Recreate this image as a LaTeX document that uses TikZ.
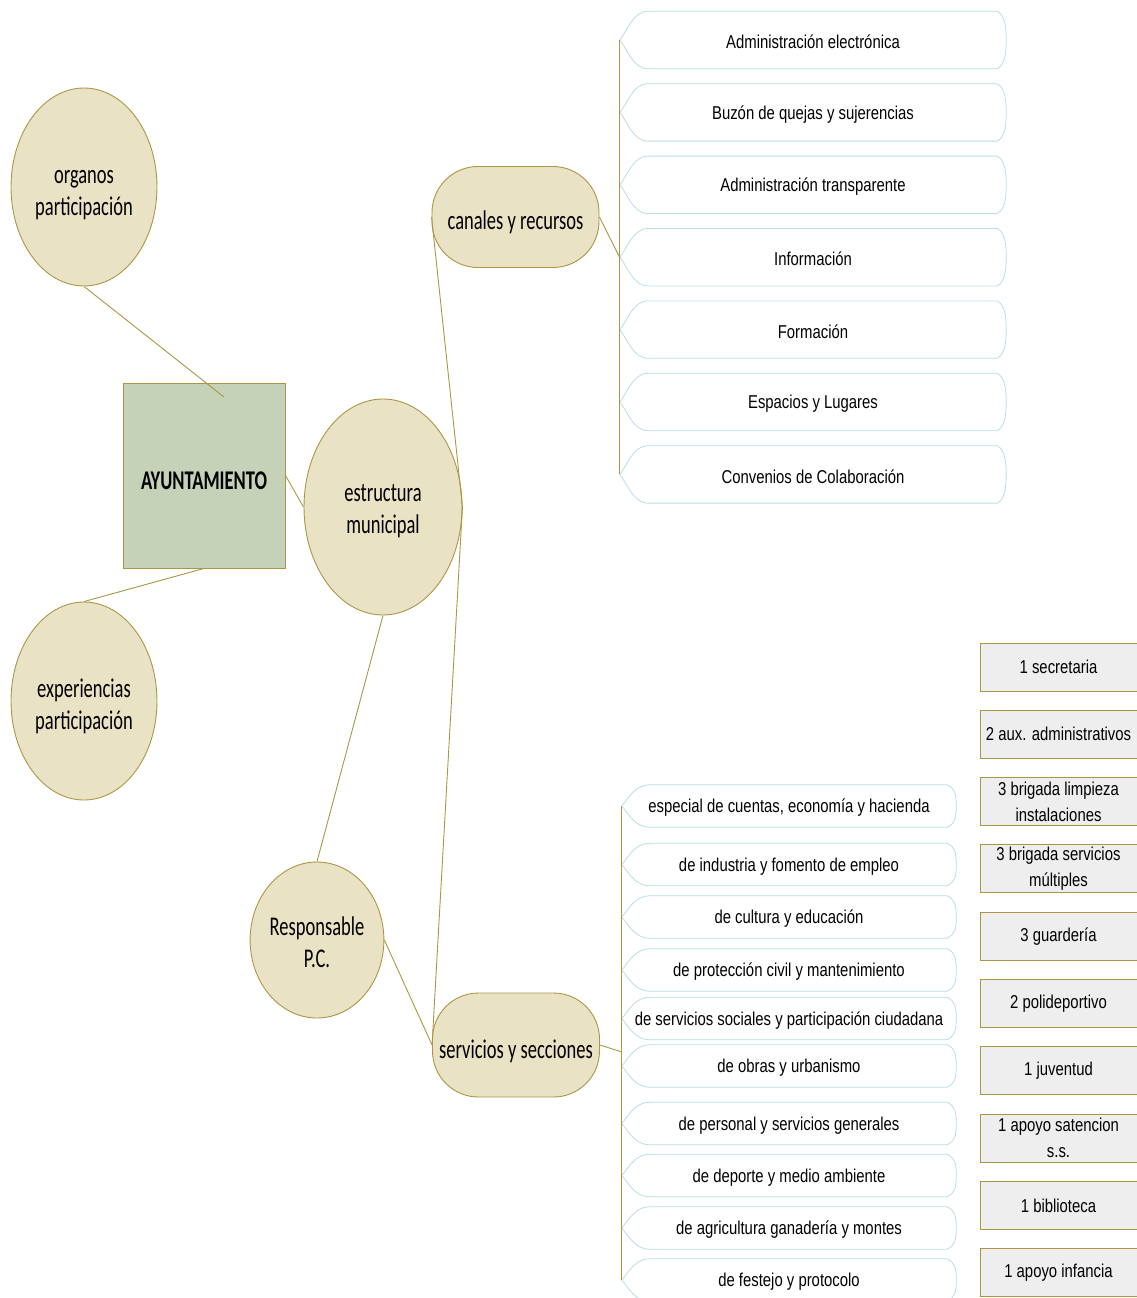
\documentclass[tikz,border=0pt]{standalone}
\usepackage{fontspec}
\usepackage{xcolor}
\usepackage{tikz}
\usetikzlibrary{shapes,positioning,calc}

\newfontfamily\calfont[FakeStretch=0.685]{Carlito}
\newfontfamily\narrowfont[FakeStretch=0.80]{Liberation Sans}

\definecolor{ayolive}{RGB}{172,150,68}
\definecolor{aybeige}{RGB}{233,226,197}
\definecolor{aysage}{RGB}{197,210,184}
\definecolor{aygrey}{RGB}{238,238,238}
\definecolor{aytab}{RGB}{183,221,232}

\tikzset{
  link/.style={draw=ayolive, line width=0.9pt},
  bubble/.style={ellipse, draw=ayolive, fill=aybeige, line width=0.9pt, inner sep=0pt, font=\calfont\fontsize{27}{31.5}\selectfont},
  pill/.style={rectangle, rounded corners=46pt, draw=ayolive, fill=aybeige, line width=0.9pt, minimum width=167pt, minimum height=101pt, inner sep=0pt, font=\calfont\fontsize{27}{31.5}\selectfont},
  tabtop/.style={minimum width=386pt, minimum height=57pt, inner sep=0pt, font=\narrowfont\fontsize{18.6}{26}\selectfont},
  tabbot/.style={minimum width=334pt, minimum height=42pt, inner sep=0pt, font=\narrowfont\fontsize{18.6}{26}\selectfont},
  staff/.style={rectangle, draw=ayolive, fill=aygrey, line width=0.9pt, minimum width=157pt, minimum height=48pt, inner sep=0pt, align=center, font=\narrowfont\fontsize{18.6}{26}\selectfont},
  tabedge/.style={draw=aytab, line width=0.8pt}
}

% text set a little below the middle, as in the original
\newcommand{\dropped}[2][6pt]{\raisebox{-#1}[\height][\depth]{\begin{tabular}{@{}c@{}}#2\end{tabular}}}

% outline of a tab: pointed left end, rounded right end
\newcommand{\taboutline}[1]{%
  \draw[tabedge] ([xshift=28pt]#1.north west) .. controls ([xshift=13pt]#1.north west) and ([xshift=7pt,yshift=8pt]#1.west) .. (#1.west)
    .. controls ([xshift=7pt,yshift=-8pt]#1.west) and ([xshift=13pt]#1.south west) .. ([xshift=28pt]#1.south west)
    -- ([xshift=-9pt]#1.south east) .. controls ([xshift=-1pt,yshift=4pt]#1.south east) and ([yshift=-12pt]#1.east) .. (#1.east)
    .. controls ([yshift=12pt]#1.east) and ([xshift=-1pt,yshift=-4pt]#1.north east) .. ([xshift=-9pt]#1.north east) -- cycle;}

\begin{document}
\begin{tikzpicture}[x=1pt, y=-1pt]
    \useasboundingbox (0,0) rectangle (1136,1298);

    % main nodes
    \node[bubble, minimum width=146pt, minimum height=198pt] (organos) at (84,187) {\dropped{organos\\participación}};
    \node[bubble, minimum width=146pt, minimum height=198pt] (experiencias) at (84,701) {\dropped{experiencias\\participación}};
    \node[rectangle, draw=ayolive, fill=aysage, line width=0.9pt, minimum width=162pt, minimum height=185pt, inner sep=0pt, font=\calfont\bfseries\fontsize{27}{31.5}\selectfont] (ayto) at (204,475.5) {\dropped[8pt]{AYUNTAMIENTO}};
    \node[bubble, minimum width=158pt, minimum height=216pt] (estructura) at (383,507) {\dropped[4pt]{estructura\\municipal}};
    \node[bubble, minimum width=132pt, minimum height=156pt] (responsable) at (317,940) {\dropped[5pt]{Responsable\\P.C.}};
    \node[pill] (canales) at (515.5,217) {\dropped{canales y recursos}};
    \node[pill, minimum height=104pt] (servicios) at (516,1045) {\dropped[7pt]{servicios y secciones}};

    % canales y recursos
    \foreach \t [count=\i] in {Administración electrónica, Buzón de quejas y sujerencias, Administración transparente, Información, Formación, Espacios y Lugares, Convenios de Colaboración}
        \node[tabtop] (c\i) at (813,{40+72.4*(\i-1)}) {\raisebox{-2pt}[\height][\depth]{\t}};
    \foreach \i in {1,...,7} \taboutline{c\i};

    % servicios y secciones
    \foreach \t/\y [count=\i] in {{especial de cuentas, economía y hacienda}/806, de industria y fomento de empleo/864.5, de cultura y educación/917, de protección civil y mantenimiento/970, de servicios sociales y participación ciudadana/1018.5, de obras y urbanismo/1066, de personal y servicios generales/1123.5, de deporte y medio ambiente/1175.5, de agricultura ganadería y montes/1228, de festejo y protocolo/1280}
        \node[tabbot] (s\i) at (789,\y) {\raisebox{-2pt}[\height][\depth]{\t}};
    \foreach \i in {1,...,10} \taboutline{s\i};

    % personal
    \foreach \t [count=\i] in {1 secretaria, 2 aux. administrativos, 3 brigada limpieza\\instalaciones, 3 brigada servicios\\múltiples, 3 guardería, 2 polideportivo, 1 juventud, 1 apoyo satencion\\s.s., 1 biblioteca, 1 apoyo infancia}
        \node[staff] (p\i) at (1058.5,{667+67.3*(\i-1)}) {\t};

    % connectors
    \coordinate (aytotip) at (224,397);
    \coordinate (cbar) at (620,258);
    \coordinate (sbar) at (622,1052);
    \draw[link] (organos.south) -- (aytotip);
    \draw[link] (ayto.south) -- (experiencias.north);
    \draw[link] (ayto.east) -- (estructura.west);
    \draw[link] (canales.west) -- (estructura.east) -- (servicios.west);
    \draw[link] (estructura.south) -- (responsable.north);
    \draw[link] (responsable.east) -- (servicios.west);
    \draw[link] (canales.east) -- (cbar);
    \draw[link] (servicios.east) -- (sbar);
    \draw[link] (c1.west) -- (c7.west);
    \draw[link] (s1.west) -- (s10.west);
\end{tikzpicture}
\end{document}
